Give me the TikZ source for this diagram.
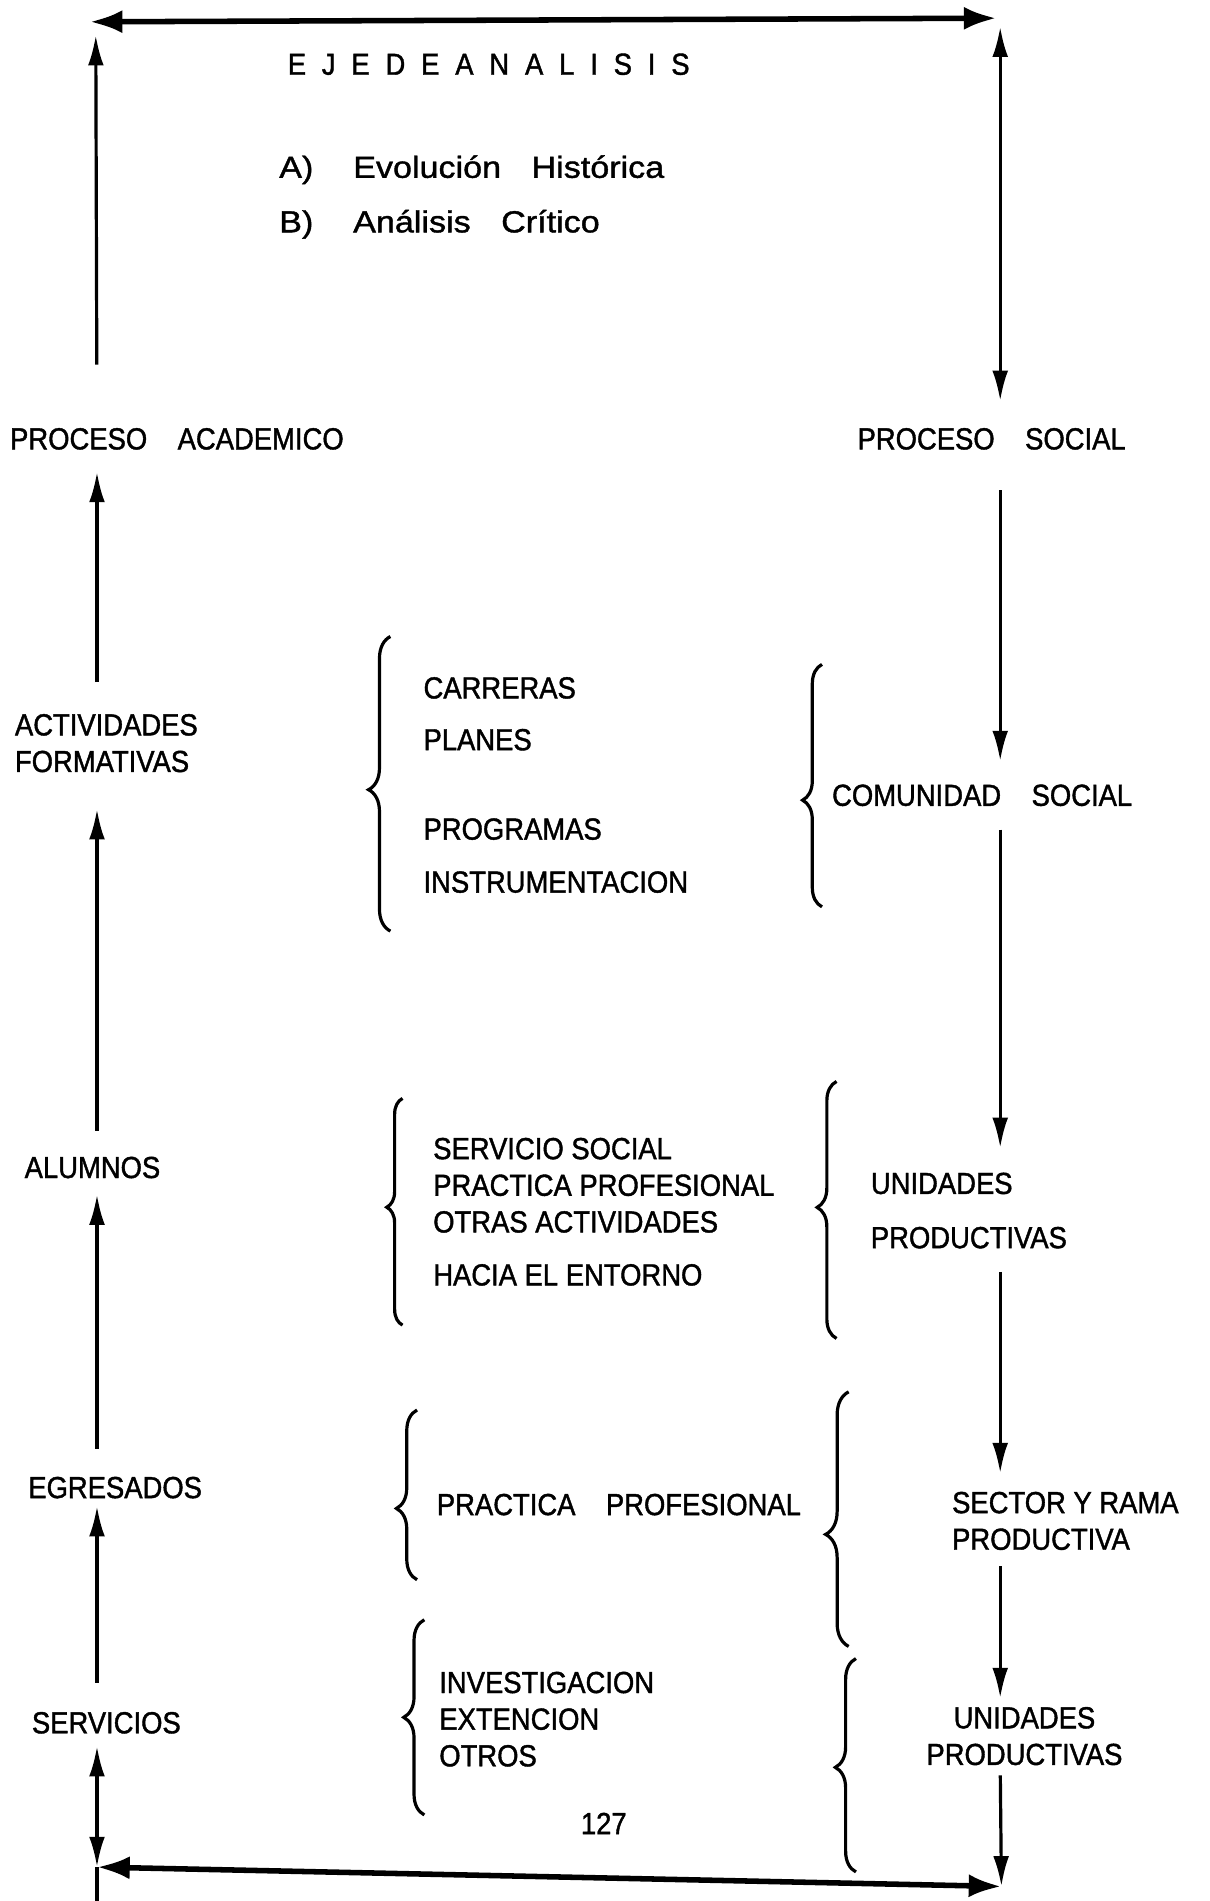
\documentclass[tikz,border=0pt]{standalone}
\usepackage{fontspec}
\setmainfont{Liberation Sans}[FakeStretch=0.9, FakeBold=1.3]
\newfontfamily\ejefont{Liberation Sans}[FakeStretch=1.12, FakeBold=1.3]
\usetikzlibrary{arrows.meta, decorations.pathreplacing}

\tikzset{
  lbl/.style={inner sep=0pt, anchor=west, align=left, font=\fontsize{14.3pt}{17.2pt}\selectfont},
  flecha/.style={line width=1.5pt, -{Latex[length=5mm, width=2.6mm]}},
  doble/.style={line width=1.5pt, {Latex[length=5mm, width=2.6mm]}-{Latex[length=5mm, width=2.6mm]}},
  borde/.style={line width=2.6pt, {Latex[length=5.4mm, width=3.8mm]}-{Latex[length=5.4mm, width=3.8mm]}},
  llave/.style={line width=1.5pt, decorate, decoration={brace, amplitude=0.34cm}},
}

\begin{document}
\begin{tikzpicture}[x=0.02cm, y=-0.02cm]
      \useasboundingbox (0,0) rectangle (998,1568);

      \coordinate (izq) at (80,0);
      \coordinate (der) at (825,0);
      \coordinate (tl) at (74,18);
      \coordinate (tr) at (822,15);
      \coordinate (tlv) at (79,29);
      \coordinate (trv) at (825,22);
      \coordinate (bl) at (80,1540);
      \coordinate (br) at (826,1556);
      \coordinate (blfin) at (80,1568);

      % eje de analisis
      \node[lbl, font=\fontsize{14.3pt}{17.2pt}\selectfont\addfontfeature{LetterSpace=52}] (eje) at (237,53) {EJEDEANALISIS};
      \node[lbl, font=\fontsize{14.3pt}{17.2pt}\ejefont] (ejeA) at (230,140) {\makebox[1.22cm][l]{A)}Evolución\quad Histórica};
      \node[lbl, font=\fontsize{14.3pt}{17.2pt}\ejefont] (ejeB) at (230,185) {\makebox[1.22cm][l]{B)}Análisis\quad Crítico};

      % proceso academico
      \node[lbl] (acad) at (8,362) {PROCESO\quad ACADEMICO};
      \node[lbl] (activ) at (12,613) {ACTIVIDADES\\FORMATIVAS};
      \node[lbl] (alum) at (20,963) {ALUMNOS};
      \node[lbl] (egres) at (23,1227) {EGRESADOS};
      \node[lbl] (serv) at (26,1421) {SERVICIOS};

      % proceso social
      \node[lbl] (psocial) at (707,362) {PROCESO\quad SOCIAL};
      \node[lbl] (comun) at (686,656) {COMUNIDAD\quad SOCIAL};
      \node[lbl] (unid) at (718,998.5) {UNIDADES\\[0.29cm]PRODUCTIVAS};
      \node[lbl] (sector) at (785,1254.5) {SECTOR Y RAMA\\PRODUCTIVA};
      \node[lbl, anchor=center, align=center] (unid2) at (845,1432) {UNIDADES\\PRODUCTIVAS};

      % contenidos
      \node[lbl] (curric) at (349,647.5) {CARRERAS\\[0.25cm]PLANES\\[0.87cm]PROGRAMAS\\[0.27cm]INSTRUMENTACION};
      \node[lbl] (servsoc) at (357,999.5) {SERVICIO SOCIAL\\PRACTICA PROFESIONAL\\OTRAS ACTIVIDADES\\[0.27cm]HACIA EL ENTORNO};
      \node[lbl] (practica) at (360,1241) {PRACTICA\quad PROFESIONAL};
      \node[lbl] (invest) at (362,1418) {INVESTIGACION\\EXTENCION\\OTROS};
      \node[lbl, anchor=center] (pagina) at (498,1504) {127};

      % llaves
      \draw[llave, decoration={amplitude=0.36cm, aspect=0.48}] (322,768) -- (322,525);
      \draw[llave, decoration={amplitude=0.32cm, aspect=0.44}] (678,748) -- (678,548);
      \draw[llave, decoration={amplitude=0.26cm, aspect=0.52}] (332,1093) -- (332,906);
      \draw[llave, decoration={amplitude=0.32cm, aspect=0.51}] (690,1104) -- (690,892);
      \draw[llave, decoration={aspect=0.42}] (344,1303) -- (344,1163);
      \draw[llave, decoration={amplitude=0.38cm, aspect=0.44}] (700,1358) -- (700,1148);
      \draw[llave, decoration={aspect=0.5}] (350,1497) -- (350,1336);
      \draw[llave, decoration={aspect=0.49}] (706,1544) -- (706,1368);

      % marco
      \draw[borde] (tl) -- (tr);
      \draw[borde] (bl) -- (br);
      \draw[line width=1.5pt] (bl) -- (blfin);

      % columna izquierda
      \draw[flecha, shorten <=1.04cm] (acad.north -| izq) -- (tlv);
      \draw[flecha, shorten <=0.52cm, shorten >=0.36cm] (activ.north -| izq) -- (acad.south -| izq);
      \draw[flecha, shorten <=0.42cm, shorten >=0.6cm] (alum.north -| izq) -- (activ.south -| izq);
      \draw[flecha, shorten <=0.46cm, shorten >=0.26cm] (egres.north -| izq) -- (alum.south -| izq);
      \draw[flecha, shorten <=0.48cm, shorten >=0.12cm] (serv.north -| izq) -- (egres.south -| izq);
      \draw[doble, shorten >=0.2cm] (bl) -- (serv.south -| izq);

      % columna derecha
      \draw[doble, shorten >=0.44cm] (trv) -- (psocial.north -| der);
      \draw[flecha, shorten <=0.66cm, shorten >=0.38cm] (psocial.south -| der) -- (comun.north -| der);
      \draw[flecha, shorten <=0.38cm, shorten >=0.4cm] (comun.south -| der) -- (unid.north -| der);
      \draw[flecha, shorten <=0.38cm, shorten >=0.3cm] (unid.south -| der) -- (sector.north -| der);
      \draw[flecha, shorten <=0.26cm, shorten >=0.14cm] (sector.south -| der) -- (unid2.north -| der);
      \draw[flecha, shorten <=0.16cm] (unid2.south -| der) -- (br);

    \end{tikzpicture}
\end{document}
